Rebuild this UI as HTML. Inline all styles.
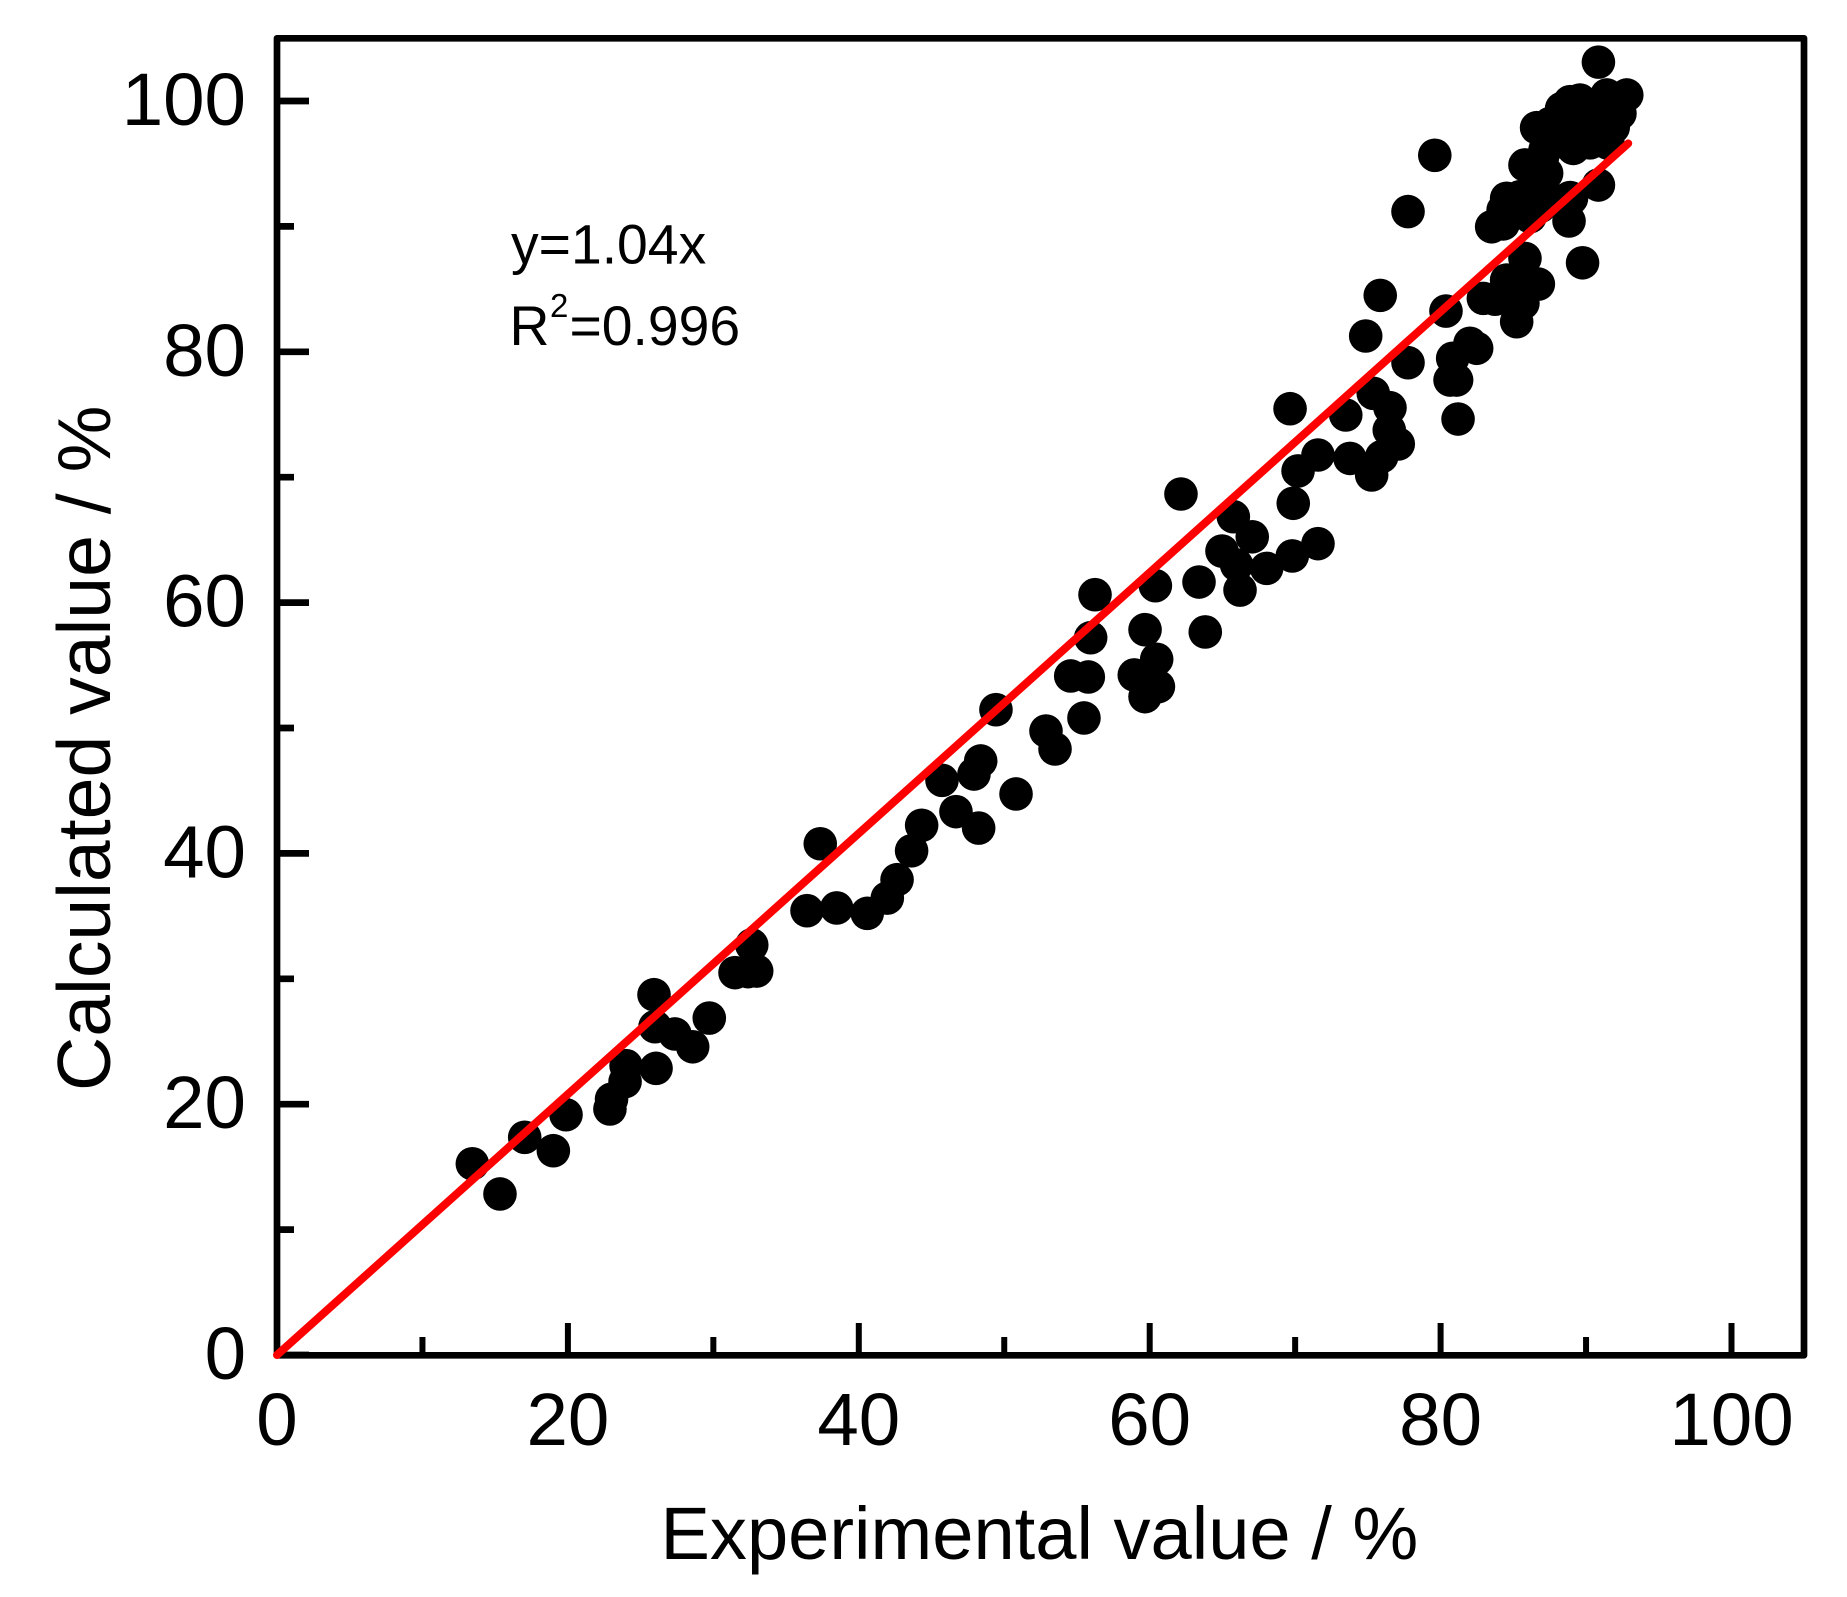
<!DOCTYPE html>
<html lang="en">
<head>
<meta charset="utf-8">
<title>Calculated vs experimental value</title>
<style>
html,body{margin:0;padding:0;background:#fff;}
svg{display:block;}
text{font-family:"Liberation Sans",Arial,sans-serif;fill:#000;}
</style>
</head>
<body>
<svg id="chart" xmlns="http://www.w3.org/2000/svg" width="1847" height="1597" viewBox="0 0 1847 1597">
  <rect x="0" y="0" width="1847" height="1597" fill="#fff"/>
  <g id="ticks"></g>
  <g id="tick-labels" font-size="74.5"></g>
  <g id="points"></g>
  <rect id="frame" x="277" y="38.3" width="1527" height="1317" fill="none" stroke="#000" stroke-width="6.7" stroke-linejoin="round"/>
  <line id="fit" stroke="#ff0000" stroke-width="8" stroke-linecap="round"/>
  <text x="660.5" y="1559" font-size="74.1">Experimental value / %</text>
  <text transform="translate(110,1091) rotate(-90)" font-size="75.2">Calculated value / %</text>
  <text x="511" y="263.5" font-size="55.3">y=1.04x</text>
  <text x="509.5" y="345" font-size="55.3">R</text>
  <text x="550" y="317" font-size="33">2</text>
  <text x="569.5" y="345" font-size="55.3">=0.996</text>
</svg>
<script>
const experimental = [
13.43,15.33,17.03,19.0,19.87,22.89,23.0,23.93,24.0,26.06,25.92,25.99,27.36,28.58,29.72,31.49,32.64,32.38,32.98,
36.44,38.48,40.58,41.96,42.63,43.63,44.32,37.35,46.68,48.24,50.81,45.72,47.92,48.38,49.43,53.49,52.87,55.48,54.57,55.78,55.94,56.24,
58.94,59.68,60.48,60.6,59.68,63.82,60.39,63.39,66.21,68.04,62.15,64.97,65.75,67.05,65.98,69.8,71.57,69.87,70.2,71.57,69.65,73.77,73.48,
75.26,75.95,75.37,76.52,76.47,77.09,74.85,77.76,75.85,81.2,80.65,81.1,80.83,82.02,82.48,80.37,
90.85,79.6,77.76,89.76,90.85,88.83,88.9,83.51,84.3,85.23,86.72,85.8,82.94,83.74,85.46,85.57,84.77,84.54,85.66,86.15,84.77,85.46,84.3,86.83,
86.6,85.8,84.54,92.8,91.43,89.58,88.9,88.32,87.52,92.33,91.87,91.5,89.12,90.27,87.18,87.29,87.04,89.0,89.58,90.73,88.9,86.5,87.0,90.0,91.0
];
const calculated = [
15.25,12.84,17.36,16.29,19.16,19.62,20.4,21.8,23.07,22.86,28.73,26.18,25.6,24.58,26.87,30.49,32.7,30.57,30.62,
35.43,35.65,35.22,36.44,37.9,40.21,42.24,40.77,43.33,42.02,44.74,45.83,46.33,47.37,51.46,48.33,49.76,50.8,54.15,54.07,57.2,60.63,
54.23,52.5,55.48,53.3,57.84,57.66,61.35,61.64,61.0,62.73,68.66,64.11,66.85,65.25,63.0,63.72,64.7,67.92,70.5,71.77,75.46,71.5,74.96,
70.18,71.64,76.69,75.54,73.76,72.65,81.26,79.13,84.5,74.64,77.75,77.75,79.48,80.68,80.28,83.25,
103.1,95.67,91.18,87.1,93.3,90.43,92.3,89.97,90.2,82.4,85.4,87.45,84.26,84.19,84.39,85.19,84.69,85.72,83.87,90.77,92.1,92.37,91.3,91.58,
97.87,94.9,92.24,100.48,100.48,100.08,99.95,99.4,98.2,99.0,97.9,96.64,96.22,96.66,96.1,94.24,93.17,92.24,98.24,98.5,97.5,93.0,95.5,97.0,98.0
];
const fitSlope = 1.04;
const fitRange = [0, 92.9];
const majorTicks = [0, 20, 40, 60, 80, 100];
const minorTicks = [10, 30, 50, 70, 90];
const tickLabels = ["0", "20", "40", "60", "80", "100"];

const NS = "http://www.w3.org/2000/svg";
function xScale(v) { return 277 + v * 14.545; }
function yScale(v) { return 1355 - v * 12.54; }

function makeLine(parent, x1, y1, x2, y2, w) {
  const el = document.createElementNS(NS, "line");
  el.setAttribute("x1", x1);
  el.setAttribute("y1", y1);
  el.setAttribute("x2", x2);
  el.setAttribute("y2", y2);
  el.setAttribute("stroke", "#000");
  el.setAttribute("stroke-width", w);
  parent.appendChild(el);
  return el;
}

const tickGroup = document.getElementById("ticks");
const labelGroup = document.getElementById("tick-labels");

majorTicks.forEach(function (v, i) {
  const xt = makeLine(tickGroup, xScale(v), 1355, xScale(v), 1323, 6);
  
  
  const yt = makeLine(tickGroup, 277, yScale(v), 309, yScale(v), 6.7);
  
  

  const xl = document.createElementNS(NS, "text");
  xl.setAttribute("x", xScale(v));
  xl.setAttribute("y", 1445);
  xl.setAttribute("text-anchor", "middle");
  xl.textContent = tickLabels[i];
  
  
  labelGroup.appendChild(xl);

  const yl = document.createElementNS(NS, "text");
  yl.setAttribute("x", 246);
  yl.setAttribute("y", yScale(v) + 24);
  yl.setAttribute("text-anchor", "end");
  yl.textContent = tickLabels[i];
  
  
  labelGroup.appendChild(yl);
});

minorTicks.forEach(function (v) {
  const xt = makeLine(tickGroup, xScale(v), 1355, xScale(v), 1337, 6);
  
  
  const yt = makeLine(tickGroup, 277, yScale(v), 294, yScale(v), 6.7);
  
  
});

const pointGroup = document.getElementById("points");
experimental.forEach(function (v, i) {
  const c = document.createElementNS(NS, "circle");
  c.setAttribute("cx", xScale(v));
  c.setAttribute("cy", yScale(calculated[i]));
  c.setAttribute("r", 16.8);
  c.setAttribute("fill", "#000");
  
  
  pointGroup.appendChild(c);
});

const fit = document.getElementById("fit");
fit.setAttribute("x1", xScale(fitRange[0]));
fit.setAttribute("y1", yScale(fitRange[0] * fitSlope));
fit.setAttribute("x2", xScale(fitRange[1]));
fit.setAttribute("y2", yScale(fitRange[1] * fitSlope));
</script>
</body>
</html>
